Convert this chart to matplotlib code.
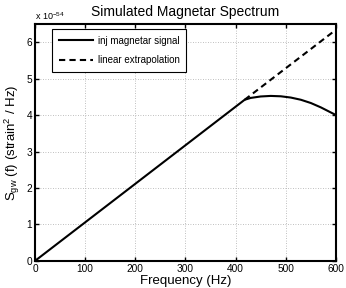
import matplotlib
matplotlib.use("Agg")
import matplotlib.pyplot as plt

plt.rcParams['font.family'] = ['Liberation Sans', 'DejaVu Sans']

# data in units of 1e-54 strain^2/Hz
signal_freq = [0, 418, 430, 450, 470, 490, 510, 530, 550, 570, 590, 600]
signal_vals = [0, 4.42, 4.47, 4.51, 4.525, 4.515, 4.48, 4.42, 4.33, 4.21, 4.07, 4.0]
extrap_freq = [418, 600]
extrap_vals = [4.42, 6.34]
x_ticks = [0, 100, 200, 300, 400, 500, 600]
y_ticks = [0, 1, 2, 3, 4, 5, 6]

fig = plt.figure(figsize=(3.46, 2.88), dpi=100)
ax = fig.add_axes([0.101, 0.094, 0.870, 0.823])
ax.plot(signal_freq, signal_vals, color='black', lw=1.5, label='inj magnetar signal')
ax.plot(extrap_freq, extrap_vals, color='black', lw=1.5, ls=(0, (3, 2)), label='linear extrapolation')
ax.set_xlim(0, 600)
ax.set_ylim(0, 6.5)
ax.set_xticks(x_ticks)
ax.set_yticks(y_ticks)
ax.tick_params(direction='in', top=True, right=True, labelsize=7.3, length=3, width=1, pad=2)
ax.grid(True, ls=(0, (1, 2)), color='#aaaaaa', lw=0.6)
for s in ax.spines.values():
    s.set_linewidth(1.5)
ax.set_xlabel('Frequency (Hz)', fontsize=9.5, labelpad=1)
ax.set_ylabel(r'S$_{\mathregular{gw}}$ (f) (strain$^{\mathregular{2}}$ / Hz)', fontsize=9.5, labelpad=3)
ax.set_title('Simulated Magnetar Spectrum', fontsize=10, pad=6)
ax.text(0.0, 1.01, r'x 10$^{\mathregular{-54}}$', transform=ax.transAxes, fontsize=6.5, ha='left', va='bottom')
leg = ax.legend(loc='upper left', fontsize=7, frameon=True, fancybox=False, edgecolor='black',
                framealpha=1, borderpad=0.7, labelspacing=1.0, handlelength=3.5, handletextpad=0.5,
                bbox_to_anchor=(0.04, 1.0))
leg.get_frame().set_linewidth(0.8)
fig.savefig('out.png', dpi=100)
